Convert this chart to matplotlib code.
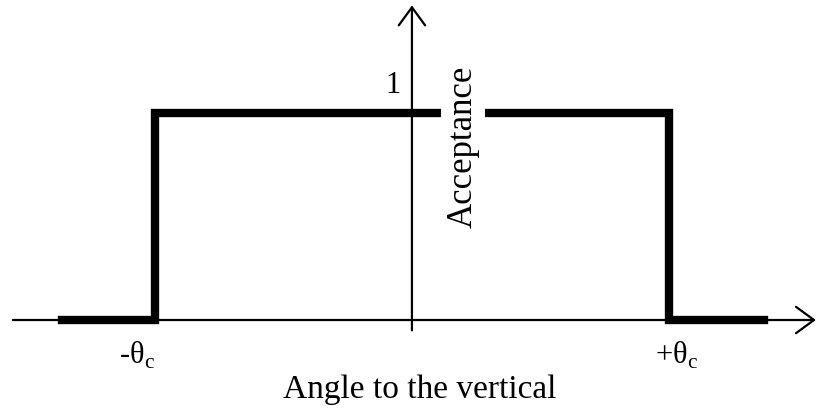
import matplotlib
matplotlib.use("Agg")
import matplotlib.pyplot as plt

plt.rcParams['font.family'] = ['Liberation Serif', 'DejaVu Serif']
plt.rcParams['mathtext.fontset'] = 'custom'
plt.rcParams['mathtext.rm'] = 'Liberation Serif'

# Acceptance curve (angle in units of theta_c)
angle = [-1.36, -1.0, -1.0, 1.0, 1.0, 1.37]
acceptance = [0, 0, 1, 1, 0, 0]

x_labels = [r'-θ$_\mathrm{c}$', r'+θ$_\mathrm{c}$']
x_label_pos = [-1.07, 1.03]

fig = plt.figure(figsize=(8.19, 4.10), dpi=100)
ax = fig.add_axes([0, 0, 1, 1])
ax.set_xlim(-1.603, 1.584)
ax.set_ylim(-0.430, 1.551)
ax.axis('off')

# axes with open arrowheads
arrow = dict(arrowstyle='->,head_length=1.3,head_width=0.95', lw=1.6, color='black',
             shrinkA=0, shrinkB=0)
ax.annotate('', xy=(1.572, 0), xytext=(-1.553, 0), arrowprops=arrow)
ax.annotate('', xy=(0, 1.52), xytext=(0, -0.05), arrowprops=arrow)

# thick acceptance curve
ax.plot(angle, acceptance, color='black', lw=6, solid_joinstyle='miter', zorder=3)

ax.text(-0.074, 1.14, '1', fontsize=22, ha='center', va='center')
ax.text(0.198, 0.84, 'Acceptance', fontsize=25, rotation=90, ha='center', va='center',
        zorder=4, bbox=dict(facecolor='white', edgecolor='none', pad=4))

for lab, xp in zip(x_labels, x_label_pos):
    ax.text(xp, -0.165, lab, fontsize=22, ha='center', va='center')

ax.text(0.031, -0.333, 'Angle to the vertical', fontsize=24, ha='center', va='center')

fig.savefig('out.png', dpi=100)
